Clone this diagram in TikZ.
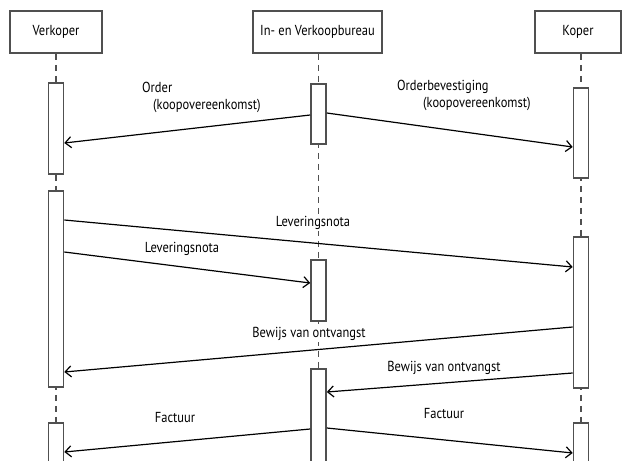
\documentclass[tikz,border=0pt]{standalone}
\usepackage{fontspec}
\setmainfont{PT Sans}[FakeStretch=0.86]
\usetikzlibrary{arrows.meta,positioning}
\definecolor{frame}{HTML}{505050}

\tikzset{
  actor/.style={draw=frame, line width=1.6pt, minimum height=42pt, inner sep=0pt,
    font=\fontsize{14.5}{16}\selectfont},
  bar/.style={draw=frame, fill=white, line width=1.6pt, minimum width=15pt, inner sep=0pt, anchor=north},
  life/.style={draw=frame, line width=1.6pt, dash pattern=on 6pt off 5pt},
  msg/.style={draw=black, line width=1.2pt, -{Straight Barb[length=6pt,width=11pt]}},
  lbl/.style={font=\fontsize{14.5}{17}\selectfont, inner sep=1pt},
}

\begin{document}
\begin{tikzpicture}[x=1pt, y=-1pt]
  \useasboundingbox (0,0) rectangle (622,461);

  % heads
  \node[actor, minimum width=92pt] (verkoper) at (56,32) {Verkoper};
  \node[actor, minimum width=129pt] (bureau) at (317.5,32) {In- en Verkoopbureau};
  \node[actor, minimum width=86pt] (koper) at (578,32) {Koper};
  \coordinate (vend) at (56,470);
  \coordinate (mend) at (318.5,470);
  \coordinate (kend) at (581,470);

  % lifelines
  \draw[life] (verkoper.south) -- (vend);
  \draw[life] (bureau.south -| mend) -- (mend);
  \draw[life] (koper.south -| kend) -- (kend);

  % activation bars
  \node[bar, minimum height=91pt] (vb1) at (56,82) {};
  \node[bar, minimum height=196pt] (vb2) at (56,190) {};
  \node[bar, minimum height=50pt] (vb3) at (56,422) {};
  \node[bar, minimum height=60pt] (mb1) at (318.5,83) {};
  \node[bar, minimum height=61pt] (mb2) at (318.5,259) {};
  \node[bar, minimum height=102pt] (mb3) at (318.5,368) {};
  \node[bar, minimum height=90pt] (kb1) at (581,87) {};
  \node[bar, minimum height=151pt] (kb2) at (581,236) {};
  \node[bar, minimum height=50pt] (kb3) at (581,422) {};

  % messages
  \draw[msg] (mb1.west |- 0,115) -- (vb1.east |- 0,143);
  \draw[msg] (mb1.east |- 0,113) -- (kb1.west |- 0,147);
  \draw[msg] (vb2.east |- 0,220) -- (kb2.west |- 0,267);
  \draw[msg] (vb2.east |- 0,252) -- (mb2.west |- 0,283);
  \draw[msg] (kb2.west |- 0,327) -- (vb2.east |- 0,372);
  \draw[msg] (kb2.west |- 0,373) -- (mb3.east |- 0,392);
  \draw[msg] (mb3.west |- 0,429) -- (vb3.east |- 0,452);
  \draw[msg] (mb3.east |- 0,428) -- (kb3.west |- 0,453);

  % labels
  \node[lbl, anchor=north west, align=left] (order) at (141,81)
    {Order\\\hspace{11pt}(koopovereenkomst)};
  \node[lbl, anchor=north west, align=left] (bevest) at (396,79)
    {Orderbevestiging\\\hspace{26pt}(koopovereenkomst)};
  \node[lbl, fill=white] (lev1) at (313,223) {Leveringsnota};
  \node[lbl] (lev2) at (182,249) {Leveringsnota};
  \node[lbl, fill=white] (bew1) at (309,334) {Bewijs van ontvangst};
  \node[lbl] (bew2) at (444,368) {Bewijs van ontvangst};
  \node[lbl] (fac1) at (175,418) {Factuur};
  \node[lbl] (fac2) at (444,414) {Factuur};
\end{tikzpicture}
\end{document}
